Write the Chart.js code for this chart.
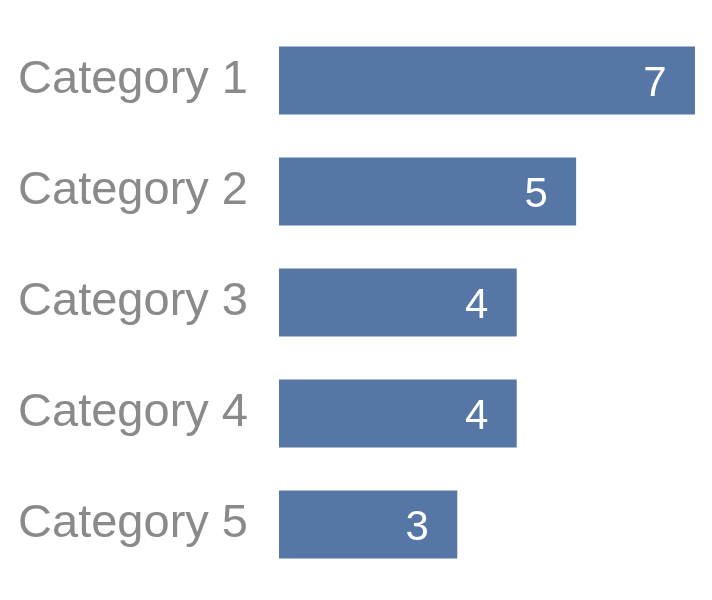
<!DOCTYPE html>
<html><head><meta charset="utf-8">
<script src="https://cdn.jsdelivr.net/npm/chart.js@4"></script>
<style>html,body{margin:0;padding:0;background:#fff}#w{width:712px;height:600px}</style>
</head><body><div id="w"><canvas id="c"></canvas></div>
<script>
const categories = ["Category 1","Category 2","Category 3","Category 4","Category 5"];
const values = [7,5,4,4,3];
const FONT = '"Liberation Sans", Arial, sans-serif';
const labelPlugin = {
  id:'vals',
  afterDatasetsDraw(chart){
    const ctx = chart.ctx;
    const meta = chart.getDatasetMeta(0);
    const ys = chart.scales.y;
    ctx.save();
    ctx.textBaseline = 'middle';
    meta.data.forEach((bar,i)=>{
      ctx.fillStyle = '#fff';
      ctx.font = '42px ' + FONT;
      ctx.textAlign = 'center';
      ctx.fillText(String(values[i]), bar.x - 40, bar.y + 4);
      ctx.fillStyle = '#8a8a8a';
      ctx.font = '47px ' + FONT;
      ctx.textAlign = 'right';
      ctx.fillText(categories[i], 248, ys.getPixelForValue(i) + 0);
    });
    ctx.restore();
  }
};
new Chart(document.getElementById('c'),{
  type:'bar',
  data:{labels:categories,datasets:[{data:values,backgroundColor:'#5676a6',barPercentage:0.613,categoryPercentage:1}]},
  options:{
    indexAxis:'y',responsive:true,maintainAspectRatio:false,animation:false,
    layout:{padding:{left:279,right:17,top:25,bottom:20}},
    plugins:{legend:{display:false},tooltip:{enabled:false}},
    scales:{
      x:{display:false,min:0,max:7},
      y:{display:false}
    }
  },
  plugins:[labelPlugin]
});
</script></body></html>
